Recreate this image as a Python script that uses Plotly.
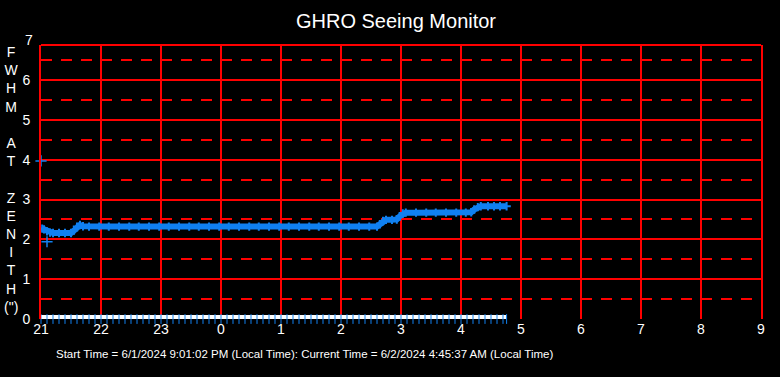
import plotly.graph_objects as go

# Hours since midnight of start day (24 = 0h next day)
seeing_time = [21.02, 21.05, 21.10, 21.15, 21.20, 21.30, 21.40, 21.50, 21.55, 21.60,
               21.65, 21.70, 21.80, 21.97, 22.13, 22.30, 22.47, 22.63, 22.80, 22.97,
               23.13, 23.30, 23.47, 23.63, 23.80, 23.97, 24.13, 24.30, 24.47, 24.63,
               24.80, 24.97, 25.13, 25.30, 25.47, 25.63, 25.80, 25.97, 26.13, 26.30,
               26.47, 26.60, 26.65, 26.70, 26.75, 26.85, 26.93, 26.98, 27.03,
               27.08, 27.25, 27.42, 27.58, 27.75, 27.92, 28.08, 28.17, 28.22, 28.28,
               28.33, 28.45, 28.55, 28.65, 28.76]
seeing_fwhm = [2.27, 2.25, 2.20, 2.17, 2.16, 2.16, 2.16, 2.16, 2.22, 2.32,
               2.36, 2.33, 2.32, 2.32, 2.32, 2.32, 2.32, 2.32, 2.32, 2.32,
               2.32, 2.32, 2.32, 2.32, 2.32, 2.32, 2.32, 2.32, 2.32, 2.32,
               2.32, 2.32, 2.32, 2.32, 2.32, 2.32, 2.32, 2.32, 2.32, 2.32,
               2.32, 2.32, 2.38, 2.46, 2.49, 2.49, 2.50, 2.58, 2.65,
               2.67, 2.67, 2.67, 2.67, 2.67, 2.67, 2.67, 2.68, 2.75, 2.81,
               2.83, 2.83, 2.83, 2.83, 2.83]

outlier_time = [21.0, 21.1]
outlier_fwhm = [3.97, 1.94]

zero_time = [21.0, 21.1, 21.2, 21.3, 21.4, 21.5, 21.6, 21.7, 21.8, 21.9,
             22.0, 22.1, 22.2, 22.3, 22.4, 22.5, 22.6, 22.7, 22.8, 22.9,
             23.0, 23.1, 23.2, 23.3, 23.4, 23.5, 23.6, 23.7, 23.8, 23.9,
             24.0, 24.1, 24.2, 24.3, 24.4, 24.5, 24.6, 24.7, 24.8, 24.9,
             25.0, 25.1, 25.2, 25.3, 25.4, 25.5, 25.6, 25.7, 25.8, 25.9,
             26.0, 26.1, 26.2, 26.3, 26.4, 26.5, 26.6, 26.7, 26.8, 26.9,
             27.0, 27.1, 27.2, 27.3, 27.4, 27.5, 27.6, 27.7, 27.8, 27.9,
             28.0, 28.1, 28.2, 28.3, 28.4, 28.5, 28.6, 28.7, 28.76]
zero_val = [0.0] * len(zero_time)

x_tickvals = [21, 22, 23, 24, 25, 26, 27, 28, 29, 30, 31, 32, 33]
x_ticktext = ["21", "22", "23", "0", "1", "2", "3", "4", "5", "6", "7", "8", "9"]
y_tickvals = [0, 1, 2, 3, 4, 5, 6]

BLUE = "#1080f0"
RED = "#ff0000"
FONT = "Liberation Sans, Arial, sans-serif"

fig = go.Figure()

fig.add_trace(go.Scatter(
    x=zero_time, y=zero_val, mode="lines",
    line=dict(color="white", width=8),
    hoverinfo="skip", showlegend=False))
fig.add_trace(go.Scatter(
    x=zero_time, y=zero_val, mode="markers",
    marker=dict(symbol="line-ns", size=7, line=dict(color=BLUE, width=1)),
    cliponaxis=False, hoverinfo="skip", showlegend=False))

fig.add_trace(go.Scatter(
    x=seeing_time, y=seeing_fwhm, mode="lines+markers",
    line=dict(color=BLUE, width=6),
    marker=dict(symbol="cross-thin", size=6, line=dict(color=BLUE, width=2)),
    showlegend=False))
fig.add_trace(go.Scatter(
    x=outlier_time, y=outlier_fwhm, mode="markers",
    marker=dict(symbol="cross-thin", size=8, line=dict(color=BLUE, width=1.5)),
    cliponaxis=False, showlegend=False))

fig.update_layout(
    width=780, height=377,
    margin=dict(l=41, r=19, t=45, b=58),
    paper_bgcolor="black", plot_bgcolor="black",
    font=dict(family=FONT, color="white", size=14),
    title=dict(text="GHRO Seeing Monitor", x=396 / 780, xanchor="center",
               y=1 - 21 / 377, yanchor="middle",
               font=dict(size=20, color="white", family=FONT)),
    xaxis=dict(range=[21, 33], tickvals=x_tickvals, ticktext=x_ticktext,
               showgrid=True, gridcolor=RED, gridwidth=2,
               showline=False, zeroline=False, ticks="",
               tickfont=dict(size=14, color="white"), ticklabelstandoff=0),
    yaxis=dict(range=[0, 6.88], tickvals=y_tickvals,
               showgrid=True, gridcolor=RED, gridwidth=2,
               showline=True, linecolor=RED, linewidth=2, mirror=True,
               zeroline=False, ticks="", tickfont=dict(size=14, color="white"),
               ticklabelstandoff=6,
               minor=dict(dtick=0.5, tick0=0.5, showgrid=True, gridcolor=RED,
                          gridwidth=2, griddash="11px,9px", ticks="")),
)

# top border of the plot frame
fig.add_shape(type="line", xref="paper", yref="paper", x0=0, x1=1, y0=1, y1=1,
              line=dict(color=RED, width=2), layer="below")

fig.add_annotation(text="7", xref="paper", yref="paper", x=-6 / 720, y=7 / 6.88,
                   xanchor="right", yanchor="middle", showarrow=False,
                   font=dict(size=14, color="white", family=FONT))

fig.add_annotation(
    text="F<br>W<br>H<br>M<br><br>A<br>T<br><br>Z<br>E<br>N<br>I<br>T<br>H<br>(\")",
    xref="paper", yref="paper", x=(12 - 41) / 720, y=(319 - 179.5) / 274,
    xanchor="center", yanchor="middle", showarrow=False, align="center",
    font=dict(size=14, color="white", family=FONT))

fig.add_annotation(
    text="Start Time = 6/1/2024 9:01:02 PM (Local Time): Current Time = 6/2/2024 4:45:37 AM (Local Time)",
    xref="paper", yref="paper", x=(54 - 41) / 720, y=(319 - 354) / 274,
    xanchor="left", yanchor="middle", showarrow=False,
    font=dict(size=11.5, color="white", family=FONT))

fig.write_html("out.html", config={"displayModeBar": False},
               post_script="document.body.style.margin='0px';")
